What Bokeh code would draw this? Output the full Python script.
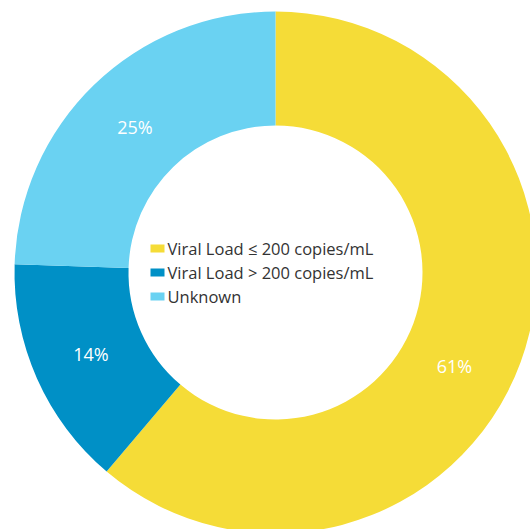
import math
from bokeh.plotting import figure
from bokeh.models import Range1d, ColumnDataSource
from bokeh.core.properties import value
from bokeh.embed import file_html
from bokeh.resources import INLINE

# ---- data ----
categories = ["Viral Load \u2264 200 copies/mL", "Viral Load > 200 copies/mL", "Unknown"]
shares = [61.2, 14.3, 24.5]
share_labels = ["61%", "14%", "25%"]
colors = ["#F5DC37", "#0090C6", "#6AD2F2"]

# ---- layout (screen-pixel style coordinates: x right, y = -screen_y) ----
W, H = 530, 529
cx, cy = 275, -272
r_in, r_out = 147, 261
label_r = 202
label_shift_deg = [-7.5, 0, 0]
FONT = "Open Sans"

total = sum(shares)
starts, ends, lx, ly = [], [], [], []
cum = 0.0
for i, s in enumerate(shares):
    a0 = math.pi / 2 - cum / total * 2 * math.pi
    cum += s
    a1 = math.pi / 2 - cum / total * 2 * math.pi
    starts.append(a0)
    ends.append(a1)
    mid = (a0 + a1) / 2 + math.radians(label_shift_deg[i])
    lx.append(cx + label_r * math.cos(mid))
    ly.append(cy + label_r * math.sin(mid))

src = ColumnDataSource(dict(start=starts, end=ends, color=colors, lx=lx, ly=ly,
                            lab=share_labels, cat=categories))

p = figure(width=W, height=H, output_backend="svg", toolbar_location=None,
           x_range=Range1d(0, W), y_range=Range1d(-H, 0),
           min_border=0)
p.axis.visible = False
p.grid.visible = False
p.outline_line_color = None
p.background_fill_color = "white"
p.border_fill_color = "white"

p.annular_wedge(x=cx, y=cy, inner_radius=r_in, outer_radius=r_out,
                start_angle="start", end_angle="end", direction="clock",
                fill_color="color", line_color=None, source=src)

p.text(x="lx", y="ly", text="lab", source=src, text_color="white",
       text_font=value(FONT), text_font_size="18px",
       text_align="center", text_baseline="middle")

# legend in the hole
leg_x0 = 150
leg_y0 = -248
leg_dy = 24
lsrc = ColumnDataSource(dict(
    x=[leg_x0 + 7] * len(categories),
    tx=[leg_x0 + 17] * len(categories),
    y=[leg_y0 - leg_dy * i for i in range(len(categories))],
    cat=categories, color=colors))
p.rect(x="x", y="y", width=14, height=8, fill_color="color", line_color=None, source=lsrc)
p.text(x="tx", y="y", text="cat", source=lsrc, text_color="#333333",
       text_font=value(FONT), text_font_size="16.5px",
       text_align="left", text_baseline="middle")

open("out.html", "w").write(file_html(p, INLINE))
